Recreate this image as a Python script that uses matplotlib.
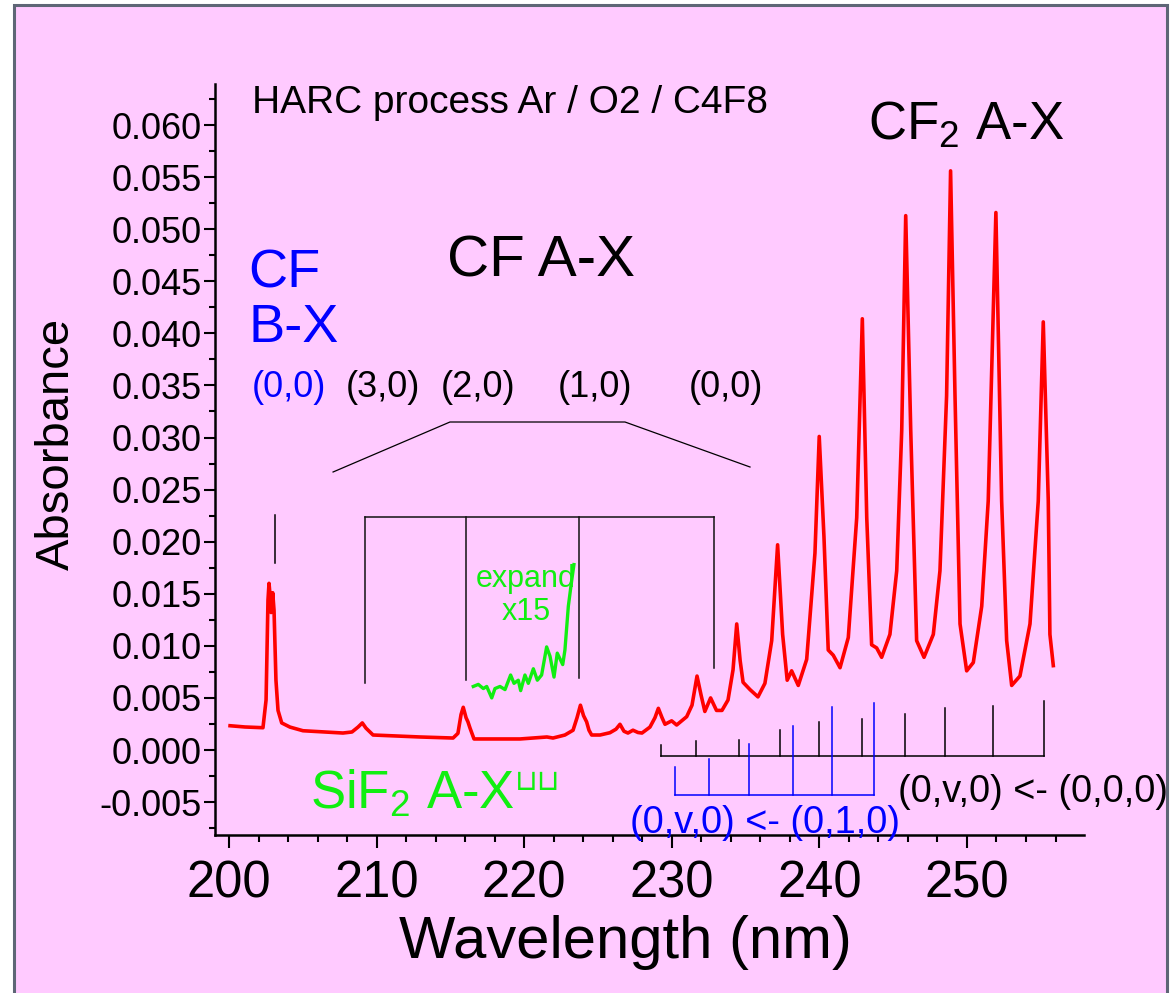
import matplotlib
matplotlib.use('Agg')
import matplotlib.pyplot as plt
from matplotlib.patches import Rectangle
from matplotlib.ticker import MultipleLocator, FormatStrFormatter

plt.rcParams['font.family'] = ['Liberation Sans', 'DejaVu Sans']
plt.rcParams['mathtext.fontset'] = 'custom'
plt.rcParams['mathtext.rm'] = 'Liberation Sans'
plt.rcParams['mathtext.it'] = 'Liberation Sans:italic'
plt.rcParams['mathtext.bf'] = 'Liberation Sans:bold'
plt.rcParams['mathtext.default'] = 'regular'
plt.rcParams['axes.unicode_minus'] = False

# ---------------- data ----------------
wavelength = [200.07, 201.08, 202.30, 202.51, 202.64, 202.71, 202.81, 202.85, 202.96, 203.05,
              203.18, 203.32, 203.57, 204.13, 205.01, 207.72, 208.33, 208.74, 209.03, 209.28,
              209.76, 212.94, 215.18, 215.51, 215.72, 215.87, 216.06, 216.19, 216.33, 216.60,
              219.72, 221.54, 221.95, 222.76, 223.31, 223.58, 223.81, 224.02, 224.23, 224.39,
              224.57, 225.14, 225.81, 226.22, 226.49, 226.76, 227.03, 227.37, 227.71, 227.98,
              228.52, 228.86, 229.09, 229.34, 229.54, 229.99, 230.33, 231.01, 231.37, 231.71,
              231.98, 232.24, 232.63, 233.03, 233.40, 233.81, 234.15, 234.40, 234.63, 234.83,
              235.30, 235.84, 236.31, 236.77, 237.17, 237.51, 237.82, 238.12, 238.57, 239.14,
              239.70, 239.99, 240.31, 240.60, 240.94, 241.40, 241.96, 242.53, 242.91, 243.21,
              243.54, 243.88, 244.22, 244.78, 245.24, 245.58, 245.85, 246.19, 246.59, 247.09,
              247.72, 248.17, 248.62, 248.89, 249.19, 249.53, 249.98, 250.43, 251.00, 251.44,
              251.96, 252.35, 252.69, 253.03, 253.59, 254.27, 254.83, 255.17, 255.51, 255.62,
              255.85]
absorbance = [0.00233, 0.00221, 0.00214, 0.0048, 0.0144, 0.0160, 0.0144, 0.0132, 0.0151, 0.0134,
              0.0067, 0.0038, 0.0026, 0.0022, 0.00185, 0.00163, 0.00173, 0.0022, 0.0026, 0.0021,
              0.00144, 0.00125, 0.00115, 0.0016, 0.0034, 0.0041, 0.0031, 0.0027, 0.0021, 0.00106,
              0.00106, 0.00125, 0.00115, 0.00144, 0.0019, 0.0031, 0.0043, 0.0033, 0.0027, 0.0019,
              0.00144, 0.00144, 0.00166, 0.0020, 0.00247, 0.0018, 0.00163, 0.0019, 0.00168, 0.00163,
              0.0022, 0.0031, 0.0040, 0.0031, 0.00247, 0.0028, 0.0024, 0.0032, 0.0043, 0.0071,
              0.0053, 0.0037, 0.0050, 0.0038, 0.0038, 0.0048, 0.0077, 0.0121, 0.0086, 0.0065,
              0.0058, 0.0051, 0.0064, 0.0105, 0.0197, 0.0111, 0.0067, 0.0076, 0.0062, 0.0087,
              0.0189, 0.0301, 0.0205, 0.0096, 0.0091, 0.0079, 0.0108, 0.0223, 0.0414, 0.0223,
              0.0101, 0.0098, 0.0089, 0.0111, 0.0172, 0.0307, 0.0513, 0.0307, 0.0105, 0.0089,
              0.0111, 0.0172, 0.0340, 0.0556, 0.0340, 0.0121, 0.0076, 0.0084, 0.0138, 0.0239,
              0.0516, 0.0239, 0.0105, 0.0062, 0.0071, 0.0121, 0.0239, 0.0411, 0.0239, 0.0111,
              0.0081]

expand_wl = [216.55, 216.89, 217.23, 217.46, 217.80, 218.02, 218.36, 218.70, 219.08, 219.31,
             219.60, 219.76, 220.05, 220.28, 220.62, 220.89, 221.18, 221.52, 221.75, 222.02,
             222.24, 222.61, 222.76, 222.99, 223.22, 223.37]
expand_abs = [0.0061, 0.0063, 0.0059, 0.0061, 0.0050, 0.0059, 0.0061, 0.0058, 0.0072, 0.0064,
              0.0067, 0.0057, 0.0072, 0.0064, 0.0078, 0.0067, 0.0072, 0.0099, 0.0090, 0.0070,
              0.0093, 0.0082, 0.0096, 0.0138, 0.0163, 0.0178]

# CF2 A-X progression (0,v,0) <- (0,0,0)
cold_wl = [229.25, 231.65, 234.57, 237.35, 239.99, 242.87, 245.83, 248.48, 251.75, 255.22]
cold_top = [0.0005, 0.00083, 0.00099, 0.00192, 0.00265, 0.00298, 0.00341, 0.0040, 0.00423, 0.00473]
cold_base = -0.00057
# CF2 hot band (0,v,0) <- (0,1,0)
hot_wl = [230.20, 232.52, 235.20, 238.22, 240.83, 243.73]
hot_top = [-0.00165, -0.00083, 0.00057, 0.00231, 0.00414, 0.00447]
hot_base = -0.0043

# CF A-X band positions (3,0),(2,0),(1,0),(0,0)
cf_ax_wl = [209.19, 216.06, 223.71, 232.86]
cf_ax_bottom = [0.00643, 0.00672, 0.00691, 0.00787]
cf_ax_bar = 0.02237
cf_bx_wl = 203.12

band_labels = ['(3,0)', '(2,0)', '(1,0)', '(0,0)']
band_label_x = [207.93, 214.36, 222.29, 231.17]

yticks = [-0.005, 0.000, 0.005, 0.010, 0.015, 0.020, 0.025, 0.030, 0.035,
          0.040, 0.045, 0.050, 0.055, 0.060]
xticks = [200, 210, 220, 230, 240, 250]

# ---------------- figure ----------------
W, H = 1176, 993
fig = plt.figure(figsize=(W / 100, H / 100), dpi=100, facecolor='white')
pink = '#FFCAFF'
fig.patches.append(Rectangle((14 / W, -0.02), (1167 - 14) / W, 1 - 5 / H + 0.02,
                             transform=fig.transFigure, facecolor=pink,
                             edgecolor='#5E6676', linewidth=2.2, zorder=-10))

ax = fig.add_axes([215 / W, 158 / H, 869 / W, 751 / H])
ax.set_zorder(5)
ax.set_facecolor('none')
ax.set_xlim(199.05, 257.93)
ax.set_ylim(-0.00816, 0.06394)

for s in ['top', 'right']:
    ax.spines[s].set_visible(False)
for s in ['left', 'bottom']:
    ax.spines[s].set_linewidth(1.8)

ax.set_yticks(yticks)
ax.yaxis.set_major_formatter(FormatStrFormatter('%.3f'))
ax.yaxis.set_minor_locator(MultipleLocator(0.0025))
ax.set_xticks(xticks)
ax.xaxis.set_minor_locator(MultipleLocator(2))
ax.tick_params(axis='y', which='major', length=8, width=1.5, labelsize=26, pad=1.5)
ax.tick_params(axis='y', which='minor', length=4.3, width=1.5)
ax.tick_params(axis='x', which='major', length=9.5, width=1.5, labelsize=36.5, pad=8)
ax.tick_params(axis='x', which='minor', length=5, width=1.5)

ax.set_ylabel('Absorbance', fontsize=34, va='center')
ax.yaxis.set_label_coords((57 - 215) / 869, (835 - 444) / 751)
ax.set_xlabel('Wavelength (nm)', fontsize=43, va='center')
ax.xaxis.set_label_coords((625 - 215) / 869, (835 - 942) / 751)

# spectrum
ax.plot(wavelength, absorbance, color='#FF0000', lw=2.6, solid_joinstyle='round', zorder=5)
ax.plot(expand_wl, expand_abs, color='#11EE11', lw=2.4, solid_joinstyle='round', zorder=5)

# CF B-X marker
ax.plot([cf_bx_wl, cf_bx_wl], [0.02256, 0.01795], color='black', lw=1.1)

# CF A-X bracket (comb)
ax.plot([cf_ax_wl[0], cf_ax_wl[-1]], [cf_ax_bar, cf_ax_bar], color='#111111', lw=1.1)
for xw, yb in zip(cf_ax_wl, cf_ax_bottom):
    ax.plot([xw, xw], [cf_ax_bar, yb], color='#111111', lw=1.1)

# connecting bracket to labels
ax.plot([207.05, 214.97, 226.83, 235.30], [0.02669, 0.03149, 0.03149, 0.02717],
        color='black', lw=0.9)

# CF2 stick diagrams
blue = '#0000FF'
ax.plot([cold_wl[0], cold_wl[-1]], [cold_base, cold_base], color='black', lw=1.1)
for xw, yt in zip(cold_wl, cold_top):
    ax.plot([xw, xw], [cold_base, yt], color='black', lw=1.1)
ax.plot([hot_wl[0], hot_wl[-1]], [hot_base, hot_base], color=blue, lw=1.1)
for xw, yt in zip(hot_wl, hot_top):
    ax.plot([xw, xw], [hot_base, yt], color=blue, lw=1.1)

# ---------------- text ----------------
ax.text(201.56, 0.0621, 'HARC process Ar / O2 / C4F8', fontsize=28, va='center', ha='left')
ax.text(243.29, 0.05856, r'CF$_2$ A-X', fontsize=38, va='baseline', ha='left')
ax.text(214.77, 0.0455, 'CF A-X', fontsize=42, va='baseline', ha='left')
ax.text(201.29, 0.04445, 'CF', fontsize=39, va='baseline', ha='left', color=blue)
ax.text(201.29, 0.03917, 'B-X', fontsize=39, va='baseline', ha='left', color=blue)
ax.text(201.56, 0.03389, '(0,0)', fontsize=26, va='baseline', ha='left', color=blue)
for lab, xl in zip(band_labels, band_label_x):
    ax.text(xl, 0.03389, lab, fontsize=26, va='baseline', ha='left', color='black')

green = '#11EE11'
ax.text(220.1, 0.01565, 'expand', fontsize=22, va='baseline', ha='center', color=green)
ax.text(220.17, 0.01248, 'x15', fontsize=22, va='baseline', ha='center', color=green)
ax.text(205.49, -0.00566, r'SiF$_2$ A-X', fontsize=38, va='baseline', ha='left', color=green)
ax.text(219.35, -0.00384, '\u2294\u2294', fontsize=21, va='baseline', ha='left',
        color=green, family=['DejaVu Sans'])

ax.text(245.35, -0.0050, '(0,v,0) <- (0,0,0)', fontsize=27.3, va='baseline', ha='left',
        color='black')
ax.text(227.15, -0.0080, '(0,v,0) <- (0,1,0)', fontsize=27.3, va='baseline', ha='left',
        color=blue)

fig.savefig('out.png', dpi=100, facecolor=fig.get_facecolor())
